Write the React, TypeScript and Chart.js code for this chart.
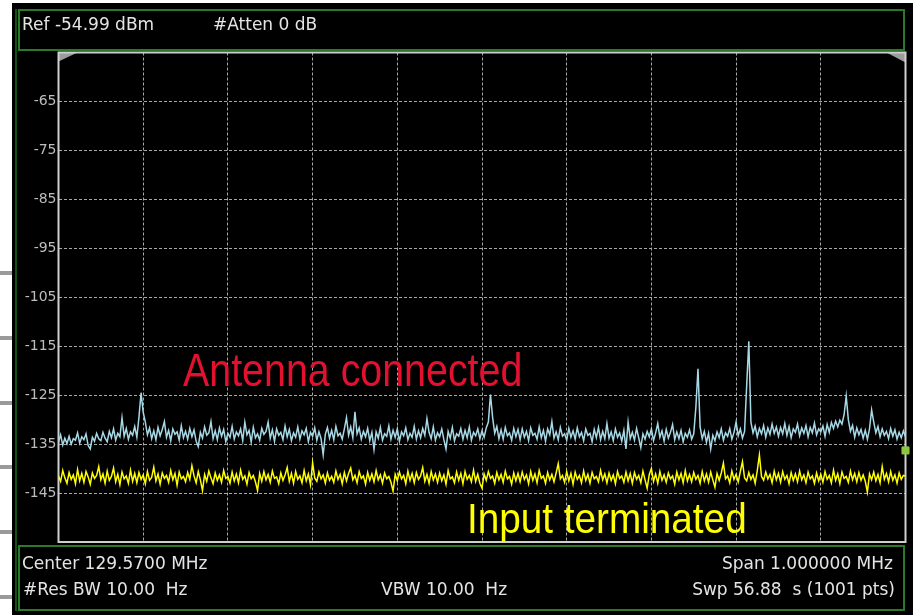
import React, { useEffect, useRef } from "react";
import { Chart, registerables } from "chart.js";

Chart.register(...registerables);

const X_MIN = 0;
const X_MAX = 1000;
const Y_MIN = -155;
const Y_MAX = -55;
const Y_STEP = 10;
const Y_LABELS = [-65, -75, -85, -95, -105, -115, -125, -135, -145];

const antennaDbm = [
  -134.6, -133.1, -135.2, -133.8, -134.9, -133.4, -135.0, -133.9, -134.2, -132.7, -134.8, -133.5, -134.1, -132.9, -135.3, -136.0, -133.6, -134.4, -132.8, -133.9,
  -134.3, -132.6, -133.8, -134.5, -132.4, -133.7, -131.9, -134.2, -132.8, -133.5, -129.6, -133.4, -131.8, -134.0, -132.5, -133.2, -131.4, -133.6, -129.5, -124.5,
  -128.5, -130.5, -133.1, -131.7, -133.9, -132.3, -134.1, -131.6, -133.3, -132.0, -130.4, -133.6, -132.2, -134.3, -131.9, -133.0, -132.5, -134.2, -131.3, -133.7,
  -132.4, -134.0, -131.8, -133.5, -132.1, -134.4, -135.5, -132.6, -133.8, -131.5, -133.2, -132.7, -130.4, -133.9, -132.3, -134.1, -131.7, -133.4, -132.0, -134.5,
  -132.8, -133.6, -131.4, -134.0, -132.5, -133.3, -131.9, -134.3, -130.5, -133.1, -132.2, -134.6, -131.6, -133.7, -132.9, -134.2, -131.8, -133.0, -132.4, -130.5,
  -133.8, -132.1, -134.4, -131.9, -133.2, -132.6, -134.1, -131.3, -133.5, -132.0, -134.3, -132.7, -133.6, -131.5, -134.0, -132.3, -133.1, -131.8, -134.5, -132.6,
  -133.4, -131.7, -134.2, -132.5, -133.9, -137.2, -133.0, -131.6, -133.8, -132.2, -134.1, -131.4, -133.3, -132.8, -134.0, -131.9, -129.6, -133.2, -131.5, -133.7,
  -128.4, -132.9, -131.7, -134.0, -132.4, -133.5, -131.8, -134.3, -132.6, -136.1, -132.5, -133.8, -131.6, -134.2, -132.9, -133.4, -131.3, -134.0, -132.2, -133.6,
  -131.9, -134.4, -132.5, -133.3, -131.7, -134.1, -132.8, -133.6, -131.4, -134.0, -132.3, -133.7, -131.8, -133.2, -129.8, -132.6, -133.9, -131.5, -134.2, -132.7,
  -133.5, -131.9, -134.1, -136.0, -132.4, -133.8, -131.6, -134.3, -132.9, -133.4, -131.8, -134.0, -132.2, -133.7, -131.5, -134.2, -132.6, -133.3, -131.9, -133.9,
  -132.3, -133.6, -131.7, -130.5, -124.9, -129.5, -132.8, -131.4, -133.9, -132.1, -134.0, -131.6, -133.3, -132.7, -134.2, -131.8, -133.5, -132.0, -134.1, -131.9,
  -133.6, -132.4, -134.3, -131.7, -133.2, -132.8, -134.0, -131.5, -133.7, -132.2, -134.4, -131.9, -133.1, -130.4, -133.8, -132.5, -134.1, -131.6, -133.4, -132.9,
  -134.2, -131.8, -133.6, -132.3, -134.0, -131.7, -133.5, -132.6, -134.3, -131.9, -133.2, -132.8, -134.5, -132.0, -133.7, -131.6, -134.1, -132.4, -133.9, -130.8,
  -133.8, -132.5, -134.3, -131.9, -133.6, -132.7, -134.4, -132.2, -136.0, -130.5, -133.9, -132.6, -134.2, -131.8, -133.7, -135.7, -132.9, -134.0, -132.4, -133.5,
  -131.9, -134.3, -132.7, -130.8, -133.6, -132.3, -134.4, -132.0, -133.8, -132.6, -131.0, -134.1, -132.5, -133.9, -132.2, -134.5, -132.8, -133.6, -132.1, -134.0,
  -132.9, -127.5, -119.6, -131.5, -133.9, -132.4, -134.6, -132.8, -136.0, -133.2, -134.3, -132.5, -133.7, -131.9, -134.2, -132.7, -133.4, -131.8, -134.0, -132.6,
  -130.5, -133.3, -131.9, -133.8, -132.4, -123.0, -114.0, -130.5, -132.7, -131.3, -133.5, -131.8, -132.9, -131.2, -133.6, -131.7, -133.0, -130.9, -132.8, -131.5,
  -133.4, -131.6, -132.9, -130.8, -133.2, -131.4, -133.7, -131.9, -132.6, -130.9, -133.3, -131.7, -132.8, -131.2, -133.5, -131.6, -132.7, -130.7, -133.1, -131.9,
  -132.5, -131.3, -133.4, -131.0, -132.6, -130.6, -131.8, -130.3, -131.5, -130.1, -130.9, -129.0, -125.2, -130.0, -132.4, -131.2, -133.6, -131.7, -133.1, -132.0,
  -133.8, -132.2, -134.0, -131.9, -128.0, -130.5, -132.7, -131.4, -133.5, -131.9, -133.2, -132.4, -133.9, -131.8, -133.4, -132.1, -134.0, -132.6, -133.7, -132.3,
  -133.5,
];

const terminatedDbm = [
  -141.5, -142.6, -140.4, -141.9, -143.0, -140.8, -142.2, -141.3, -143.1, -140.2, -142.5, -141.0, -142.8, -140.6, -141.7, -143.2, -140.9, -142.0, -141.4, -139.6,
  -142.3, -141.1, -143.0, -140.5, -142.4, -141.6, -139.9, -142.7, -141.2, -143.3, -140.7, -142.1, -141.5, -143.0, -140.3, -142.6, -141.0, -142.9, -140.8, -142.2,
  -141.3, -143.1, -140.6, -142.4, -141.8, -139.7, -142.5, -141.1, -143.2, -140.9, -142.0, -141.4, -142.8, -140.4, -142.3, -141.0, -143.4, -140.7, -142.1, -141.6,
  -142.7, -140.8, -142.2, -139.4, -141.5, -142.9, -140.6, -142.3, -144.5, -141.2, -142.6, -140.5, -141.9, -143.1, -140.9, -142.4, -141.3, -142.8, -140.4, -142.0,
  -141.6, -143.0, -140.7, -142.5, -141.1, -142.9, -140.3, -142.2, -141.5, -143.2, -140.8, -142.1, -141.4, -142.7, -144.5, -141.0, -142.6, -140.6, -142.3, -141.2,
  -142.8, -140.5, -142.0, -141.7, -143.1, -140.9, -142.4, -141.3, -139.8, -142.6, -141.0, -143.0, -140.6, -142.2, -141.5, -142.9, -140.4, -142.5, -141.1, -143.3,
  -138.8, -141.9, -142.6, -140.7, -142.1, -141.3, -143.0, -140.9, -142.4, -141.6, -142.8, -140.5, -142.2, -141.2, -143.1, -140.8, -142.5, -141.0, -139.9, -142.3,
  -141.4, -142.9, -140.6, -142.0, -141.5, -143.2, -140.8, -142.4, -141.1, -142.7, -140.4, -142.3, -141.3, -143.0, -140.9, -142.1, -141.6, -142.8, -144.6, -141.2,
  -142.5, -140.7, -142.1, -141.4, -143.1, -140.5, -142.4, -141.0, -142.9, -140.8, -142.2, -141.5, -139.8, -142.6, -141.2, -143.0, -140.6, -142.3, -141.1, -142.8,
  -140.9, -142.5, -141.3, -143.2, -140.4, -142.1, -141.7, -142.9, -140.7, -142.4, -141.0, -143.1, -140.6, -142.2, -141.4, -142.7, -140.3, -142.6, -141.2, -143.0,
  -144.0, -141.1, -142.4, -140.6, -142.0, -141.5, -143.0, -140.8, -142.3, -141.2, -142.8, -140.5, -142.1, -141.6, -143.2, -140.9, -142.5, -141.0, -142.7, -140.7,
  -142.2, -141.3, -143.1, -140.6, -142.4, -141.1, -142.9, -140.4, -142.0, -141.5, -143.0, -140.8, -142.3, -141.2, -142.7, -140.9, -139.0, -142.1, -141.4, -142.8,
  -140.6, -142.5, -141.0, -143.2, -140.7, -142.2, -141.4, -142.9, -140.5, -142.4, -141.2, -143.0, -140.8, -142.1, -141.6, -142.7, -140.4, -142.3, -141.1, -142.9,
  -140.9, -142.4, -141.3, -143.1, -140.6, -142.0, -141.5, -142.8, -140.7, -142.5, -141.0, -143.0, -140.8, -142.2, -141.4, -142.9, -140.5, -142.3, -144.0, -141.2,
  -140.0, -142.6, -141.1, -143.0, -140.6, -142.4, -141.3, -142.8, -140.9, -142.1, -141.5, -143.2, -140.7, -142.3, -141.0, -142.9, -140.4, -142.5, -141.2, -142.7,
  -140.8, -142.2, -141.4, -143.0, -140.6, -142.5, -141.1, -142.8, -140.7, -142.3, -143.8, -141.0, -142.4, -140.9, -138.9, -142.1, -141.5, -142.9, -140.5, -142.2,
  -141.2, -142.7, -140.6, -138.6, -141.9, -142.5, -140.8, -142.2, -141.3, -143.0, -140.4, -137.2, -141.6, -142.4, -140.7, -142.1, -141.2, -142.9, -140.5, -142.3,
  -141.0, -142.8, -140.6, -142.2, -141.4, -143.1, -140.8, -142.4, -141.1, -142.7, -140.5, -142.3, -141.3, -142.9, -140.7, -142.1, -141.5, -143.0, -140.9, -142.5,
  -141.2, -142.8, -140.6, -142.2, -141.4, -142.9, -140.3, -142.4, -141.1, -143.1, -140.7, -142.0, -141.6, -142.8, -140.5, -142.3, -141.0, -142.7, -140.8, -142.4,
  -141.3, -142.6, -144.8, -141.1, -142.3, -140.7, -142.5, -141.2, -142.9, -139.6, -142.2, -141.0, -142.7, -140.6, -142.4, -141.3, -143.0, -140.9, -142.2, -141.4,
  -141.5,
];

const markerDbm = -136.3;

const toPoints = (vals: number[]) =>
  vals.map((v, i) => ({ x: X_MIN + (i * (X_MAX - X_MIN)) / (vals.length - 1), y: v }));

const TEXT_FONT = "'DejaVu Sans', sans-serif";

const framePlugin = {
  id: "saFrame",
  beforeDatasetsDraw(chart: any) {
    const { ctx, chartArea: a } = chart;
    ctx.save();
    // corner wedges
    ctx.fillStyle = "#9c9c9c";
    ctx.beginPath();
    ctx.moveTo(a.left, a.top);
    ctx.lineTo(a.left + 19, a.top);
    ctx.lineTo(a.left, a.top + 9);
    ctx.closePath();
    ctx.fill();
    ctx.beginPath();
    ctx.moveTo(a.right, a.top);
    ctx.lineTo(a.right - 19, a.top);
    ctx.lineTo(a.right, a.top + 10);
    ctx.closePath();
    ctx.fill();
    // frame
    ctx.strokeStyle = "#cfcfcf";
    ctx.lineWidth = 2;
    ctx.strokeRect(a.left, a.top, a.right - a.left, a.bottom - a.top);
    ctx.restore();
  },
};

function SpectrumChart() {
  const ref = useRef<HTMLCanvasElement | null>(null);
  useEffect(() => {
    if (!ref.current) return;
    const chart = new Chart(ref.current, {
      type: "line",
      data: {
        datasets: [
          {
            label: "Input terminated",
            data: toPoints(terminatedDbm),
            borderColor: "#ffff00",
            borderWidth: 1.5,
            pointRadius: 0,
            tension: 0,
          },
          {
            label: "Antenna connected",
            data: toPoints(antennaDbm),
            borderColor: "#a6d8e6",
            borderWidth: 1.5,
            pointRadius: 0,
            tension: 0,
          },
          {
            label: "Marker",
            data: [{ x: X_MAX, y: markerDbm }],
            showLine: false,
            pointStyle: "rect",
            pointRadius: 5,
            pointBackgroundColor: "#8cc63f",
            pointBorderColor: "#8cc63f",
            clip: false as any,
          },
        ],
      },
      options: {
        animation: false,
        responsive: false,
        maintainAspectRatio: false,
        layout: { padding: { left: 0, top: 52.5, right: 7.5, bottom: 73 } },
        plugins: { legend: { display: false }, tooltip: { enabled: false } },
        scales: {
          x: {
            type: "linear",
            min: X_MIN,
            max: X_MAX,
            ticks: { display: false, stepSize: 100 },
            grid: { color: "#a8a8a8", lineWidth: 1, drawTicks: false },
            border: { display: false, dash: [3, 2] },
            afterFit: (s: any) => {
              s.height = 0;
            },
          },
          y: {
            type: "linear",
            min: Y_MIN,
            max: Y_MAX,
            ticks: {
              stepSize: Y_STEP,
              padding: 2,
              color: "#bdbdbd",
              font: { family: "'DejaVu Sans', sans-serif", size: 14 },
              callback: (v: any) => (Y_LABELS.includes(Number(v)) ? String(v) : ""),
            },
            grid: { color: "#a8a8a8", lineWidth: 1, drawTicks: false },
            border: { display: false, dash: [3, 2] },
            afterFit: (s: any) => {
              s.width = 58.5;
            },
          },
        },
      },
      plugins: [framePlugin],
    } as any);
    return () => chart.destroy();
  }, []);
  return (
    <canvas
      ref={ref}
      width={913}
      height={615}
      style={{ position: "absolute", left: 0, top: 0, width: 913, height: 615 }}
    />
  );
}

const txt = (extra: React.CSSProperties): React.CSSProperties => ({
  position: "absolute",
  fontFamily: TEXT_FONT,
  fontSize: 17,
  lineHeight: "17px",
  color: "#e4e4e4",
  whiteSpace: "pre",
  ...extra,
});

const LEFT_BARS = [273, 338, 403, 467, 532, 597];

export default function App() {
  return (
    <div
      style={{
        position: "absolute",
        left: 0,
        top: 0,
        width: 913,
        height: 615,
        background: "#ffffff",
        overflow: "hidden",
      }}
    >
      {LEFT_BARS.map((y) => (
        <div
          key={y}
          style={{ position: "absolute", left: 0, top: y - 2, width: 12, height: 4, background: "#9a9a9a" }}
        />
      ))}
      <div style={{ position: "absolute", left: 12, top: 3, right: 0, bottom: 0, background: "#000" }} />
      <div style={{ position: "absolute", left: 15, top: 9, width: 2, height: 602, background: "#125012" }} />
      <div
        style={{
          position: "absolute",
          left: 18,
          top: 9,
          width: 887,
          height: 42,
          border: "2px solid #2b7a2b",
          boxSizing: "border-box",
        }}
      />
      <div
        style={{
          position: "absolute",
          left: 18,
          top: 545,
          width: 887,
          height: 66,
          border: "2px solid #2b7a2b",
          boxSizing: "border-box",
        }}
      />
      <SpectrumChart />
      <div style={txt({ left: 22, top: 15.5 })}>Ref -54.99 dBm</div>
      <div style={txt({ left: 213, top: 15.5 })}>#Atten 0 dB</div>
      <div style={txt({ left: 22, top: 554.5 })}>Center 129.5700 MHz</div>
      <div style={txt({ left: 23, top: 580.5 })}>#Res BW 10.00  Hz</div>
      <div style={txt({ left: 381, top: 580.5 })}>VBW 10.00  Hz</div>
      <div style={txt({ right: 20, top: 554.5 })}>Span 1.000000 MHz</div>
      <div style={txt({ right: 18, top: 580.5 })}>Swp 56.88  s (1001 pts)</div>
      <div
        style={{
          position: "absolute",
          left: 183,
          top: 347,
          fontFamily: "'Liberation Sans', Arial, sans-serif",
          fontSize: 46,
          lineHeight: "46px",
          color: "#e3102f",
          whiteSpace: "pre",
          transform: "scaleX(0.856)",
          transformOrigin: "0 0",
        }}
      >
        Antenna connected
      </div>
      <div
        style={{
          position: "absolute",
          left: 467,
          top: 496.5,
          fontFamily: "'Liberation Sans', Arial, sans-serif",
          fontSize: 43,
          lineHeight: "43px",
          color: "#ffff00",
          whiteSpace: "pre",
          transform: "scaleX(0.9)",
          transformOrigin: "0 0",
        }}
      >
        Input terminated
      </div>
    </div>
  );
}
